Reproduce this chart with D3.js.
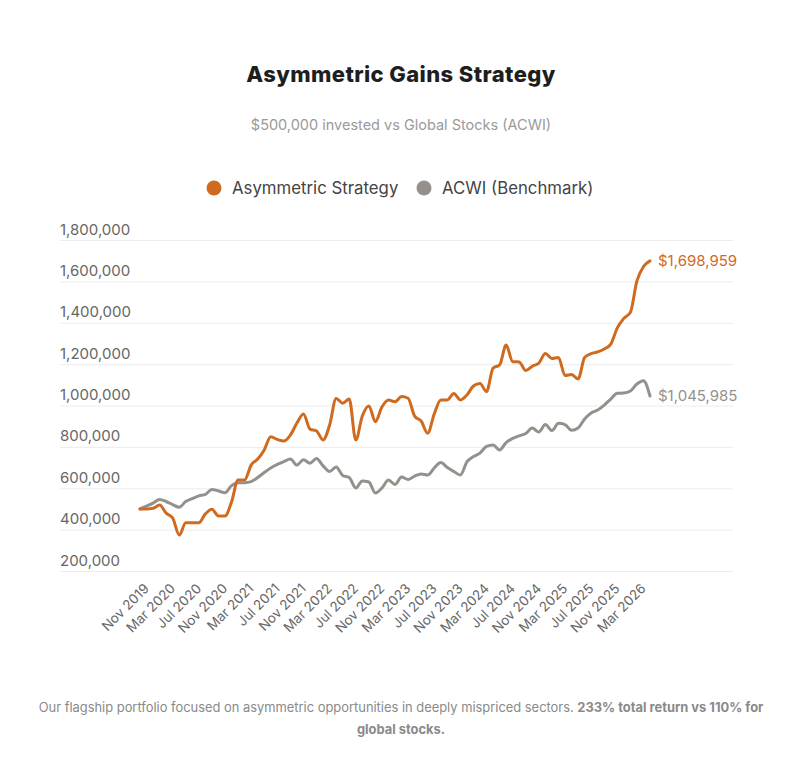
<!DOCTYPE html>
<html>
<head>
<meta charset="utf-8">
<script src="https://cdn.jsdelivr.net/npm/d3@7"></script>
<style>
  body { margin: 0; background: #fff; font-family: Inter, "Open Sans", sans-serif; }
  #chart { display: block; }
</style>
</head>
<body>
<svg id="chart"></svg>
<script>
// Monthly points, Nov 2019 -> May 2026
const months = [
  "Nov 2019","Dec 2019","Jan 2020","Feb 2020","Mar 2020","Apr 2020","May 2020","Jun 2020","Jul 2020","Aug 2020",
  "Sep 2020","Oct 2020","Nov 2020","Dec 2020","Jan 2021","Feb 2021","Mar 2021","Apr 2021","May 2021","Jun 2021",
  "Jul 2021","Aug 2021","Sep 2021","Oct 2021","Nov 2021","Dec 2021","Jan 2022","Feb 2022","Mar 2022","Apr 2022",
  "May 2022","Jun 2022","Jul 2022","Aug 2022","Sep 2022","Oct 2022","Nov 2022","Dec 2022","Jan 2023","Feb 2023",
  "Mar 2023","Apr 2023","May 2023","Jun 2023","Jul 2023","Aug 2023","Sep 2023","Oct 2023","Nov 2023","Dec 2023",
  "Jan 2024","Feb 2024","Mar 2024","Apr 2024","May 2024","Jun 2024","Jul 2024","Aug 2024","Sep 2024","Oct 2024",
  "Nov 2024","Dec 2024","Jan 2025","Feb 2025","Mar 2025","Apr 2025","May 2025","Jun 2025","Jul 2025","Aug 2025",
  "Sep 2025","Oct 2025","Nov 2025","Dec 2025","Jan 2026","Feb 2026","Mar 2026","Apr 2026","May 2026"
];

const strategy = [
  500000, 500000, 503000, 519000, 480000, 456000, 374000, 433000, 433000, 433000,
  476000, 498000, 466000, 466000, 534000, 640000, 640000, 712000, 741000, 785000,
  849000, 836000, 828000, 857000, 915000, 959000, 886000, 877000, 833000, 906000,
  1034000, 1011000, 1031000, 833000, 949000, 998000, 922000, 993000, 1027000, 1018000,
  1043000, 1035000, 949000, 925000, 866000, 959000, 1027000, 1027000, 1058000, 1027000,
  1051000, 1094000, 1106000, 1067000, 1181000, 1196000, 1292000, 1212000, 1210000, 1169000,
  1190000, 1205000, 1251000, 1227000, 1232000, 1145000, 1150000, 1128000, 1232000, 1251000,
  1259000, 1273000, 1297000, 1375000, 1421000, 1450000, 1602000, 1671000, 1698959
];

const acwi = [
  500000, 514000, 528000, 546000, 536000, 521000, 508000, 536000, 550000, 563000,
  570000, 594000, 587000, 578000, 613000, 627000, 627000, 632000, 652000, 676000,
  698000, 715000, 729000, 741000, 712000, 738000, 721000, 744000, 708000, 681000,
  703000, 662000, 652000, 601000, 635000, 630000, 577000, 601000, 640000, 618000,
  654000, 642000, 659000, 669000, 664000, 698000, 724000, 700000, 681000, 664000,
  727000, 753000, 770000, 802000, 809000, 785000, 821000, 841000, 853000, 865000,
  891000, 872000, 908000, 879000, 914000, 908000, 880000, 891000, 935000, 964000,
  978000, 1002000, 1031000, 1059000, 1060000, 1070000, 1104000, 1120000, 1045985
];

const xTickLabels = [
  "Nov 2019","Mar 2020","Jul 2020","Nov 2020","Mar 2021","Jul 2021","Nov 2021","Mar 2022","Jul 2022","Nov 2022",
  "Mar 2023","Jul 2023","Nov 2023","Mar 2024","Jul 2024","Nov 2024","Mar 2025","Jul 2025","Nov 2025","Mar 2026"
];
const yTicks = [200000, 400000, 600000, 800000, 1000000, 1200000, 1400000, 1600000, 1800000];

const seriesNames = ["Asymmetric Strategy", "ACWI (Benchmark)"];
const colors = ["#cf6a1f", "#94918c"];

const W = 800, H = 760;
const svg = d3.select("#chart").attr("width", W).attr("height", H);

// Title + subtitle
svg.append("text")
  .attr("x", 401).attr("y", 82)
  .attr("text-anchor", "middle")
  .style("font-size", "22px").style("font-weight", 800)
  .style("letter-spacing", "0.4px")
  .style("fill", "#1e1e1e")
  .text("Asymmetric Gains Strategy");

svg.append("text")
  .attr("x", 401).attr("y", 130)
  .attr("text-anchor", "middle")
  .style("font-size", "14.5px").style("fill", "#9a9a9a")
  .text("$500,000 invested vs Global Stocks (ACWI)");

// Legend
const legendX = [214, 424];
seriesNames.forEach((name, i) => {
  svg.append("circle")
    .attr("cx", legendX[i]).attr("cy", 188).attr("r", 7.5)
    .attr("fill", colors[i]);
  svg.append("text")
    .attr("x", legendX[i] + 18).attr("y", 194)
    .style("font-size", "16.8px").style("fill", "#444")
    .text(name);
});

// Scales
const x = d3.scalePoint().domain(months).range([140, 650]);
const y = d3.scaleLinear().domain([200000, 1800000]).range([571, 240]);

// Y axis with gridlines
const yAxis = svg.append("g")
  .attr("transform", "translate(60,0)")
  .call(d3.axisRight(y).tickValues(yTicks).tickSize(673).tickFormat(d3.format(",")));
yAxis.select(".domain").remove();
yAxis.selectAll(".tick line").attr("stroke", "#ececec");
yAxis.selectAll(".tick text")
  .attr("x", 0).attr("dy", "-6")
  .style("text-anchor", "start")
  .style("font-family", "Inter, sans-serif")
  .style("font-size", "15px").style("fill", "#666");

// X axis
const xAxis = svg.append("g")
  .attr("transform", "translate(0,571)")
  .call(d3.axisBottom(x).tickValues(xTickLabels).tickSize(0));
xAxis.select(".domain").remove();
xAxis.selectAll(".tick text")
  .attr("x", 0).attr("y", 0).attr("dy", "0.35em")
  .attr("transform", "translate(6,15) rotate(-45)")
  .style("text-anchor", "end")
  .style("font-family", "Inter, sans-serif")
  .style("font-size", "13.5px").style("fill", "#666");

// Lines
const line = d3.line()
  .x((d, i) => x(months[i]))
  .y(d => y(d))
  .curve(d3.curveMonotoneX);

[acwi, strategy].forEach((vals, k) => {
  const c = k === 0 ? colors[1] : colors[0];
  svg.append("path")
    .datum(vals)
    .attr("fill", "none")
    .attr("stroke", c)
    .attr("stroke-width", 3)
    .attr("stroke-linejoin", "round")
    .attr("stroke-linecap", "round")
    .attr("d", line);
});

// End labels
const fmt = d3.format("$,");
[[strategy, colors[0]], [acwi, colors[1]]].forEach(([vals, c]) => {
  const last = vals[vals.length - 1];
  svg.append("text")
    .attr("x", x(months[months.length - 1]) + 8)
    .attr("y", y(last)).attr("dy", "0.35em")
    .style("font-size", "15px").style("fill", c)
    .text(fmt(last));
});

// Footer
const foot = svg.append("g").style("font-size", "12.9px").style("fill", "#8a8a8a");
const l1 = foot.append("text").attr("x", 401).attr("y", 712).attr("text-anchor", "middle");
l1.append("tspan").text("Our flagship portfolio focused on asymmetric opportunities in deeply mispriced sectors. ");
l1.append("tspan").style("font-weight", 700).text("233% total return vs 110% for");
foot.append("text").attr("x", 401).attr("y", 734).attr("text-anchor", "middle")
  .style("font-weight", 700).text("global stocks.");
</script>
</body>
</html>
